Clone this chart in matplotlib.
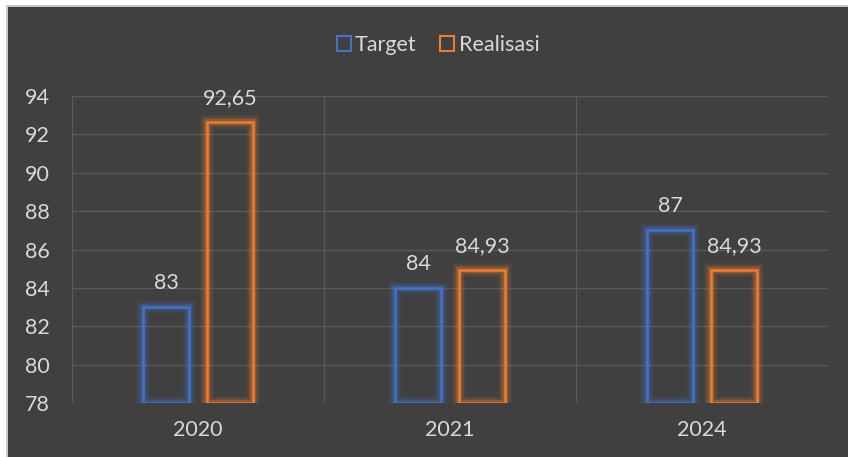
import numpy as np
import matplotlib.pyplot as plt
import matplotlib.patheffects as pe
from matplotlib.patches import Rectangle, Patch

years = ['2020', '2021', '2024']
target = [83, 84, 87]
realisasi = [92.65, 84.93, 84.93]
series_names = ['Target', 'Realisasi']
yticks = [78, 80, 82, 84, 86, 88, 90, 92, 94]

BG = '#404040'
TXT = '#D9D9D9'
GRID = '#595959'
BLUE = '#4472C4'
ORANGE = '#ED7D31'
FS = 15.5

plt.rcParams['font.family'] = ['Lato', 'DejaVu Sans']

W, H = 848, 457
fig = plt.figure(figsize=(W / 100, H / 100), dpi=100, facecolor='white')

# light frame line and dark chart area (pixel coords -> figure fractions)
fig.patches.append(Rectangle((6 / W, 0), 1, 1 - 5 / H, transform=fig.transFigure,
                             facecolor='#C8C8C8', edgecolor='none', zorder=-2))
fig.patches.append(Rectangle((8 / W, 0), 1, 1 - 7 / H, transform=fig.transFigure,
                             facecolor=BG, edgecolor='none', zorder=-1))

# plot area: x 72..828, y 96..403
ax = fig.add_axes([72 / W, 1 - 403 / H, (828 - 72) / W, (403 - 96) / H])
ax.set_facecolor('none')

x = np.arange(len(years))
bw = 0.186
off = 0.127


def glow(color):
    return [pe.Stroke(linewidth=10, foreground=color, alpha=0.08),
            pe.Stroke(linewidth=7, foreground=color, alpha=0.15),
            pe.Stroke(linewidth=4.5, foreground=color, alpha=0.3),
            pe.Normal()]


bars_t = ax.bar(x - off, np.array(target) - 78, bw, bottom=78, facecolor='none',
                edgecolor=BLUE, linewidth=1.8, zorder=3)
bars_r = ax.bar(x + off, np.array(realisasi) - 78, bw, bottom=78, facecolor='none',
                edgecolor=ORANGE, linewidth=1.8, zorder=3)
for b in list(bars_t) + list(bars_r):
    b.set_path_effects(glow(b.get_edgecolor()))

for bars, vals in [(bars_t, target), (bars_r, realisasi)]:
    for b, v in zip(bars, vals):
        lbl = ('%g' % v).replace('.', ',')
        ax.annotate(lbl, (b.get_x() + b.get_width() / 2, v), xytext=(0, 10),
                    textcoords='offset points', ha='center', va='bottom',
                    color=TXT, fontsize=FS, zorder=4)

ax.set_xlim(-0.5, len(years) - 0.5)
ax.set_ylim(78, 94)
ax.set_yticks(yticks)
ax.set_xticks(x)
ax.set_xticklabels(years)
ax.set_xticks(np.arange(len(years) + 1) - 0.5, minor=True)
ax.grid(axis='y', color=GRID, linewidth=1, zorder=0)
ax.grid(axis='x', which='minor', color=GRID, linewidth=1, zorder=0)
ax.tick_params(axis='both', which='both', length=0, colors=TXT, labelsize=FS)
ax.tick_params(axis='x', pad=12)
ax.tick_params(axis='y', pad=16)
for s in ax.spines.values():
    s.set_visible(False)

handles = [Patch(facecolor='none', edgecolor=BLUE, linewidth=1.5),
           Patch(facecolor='none', edgecolor=ORANGE, linewidth=1.5)]
fig.legend(handles, series_names, loc='center', bbox_to_anchor=(438 / W, 1 - 45 / H),
           ncol=2, frameon=False, fontsize=FS, labelcolor=TXT, handlelength=0.65,
           handleheight=0.65, handletextpad=0.2, columnspacing=1.1)

fig.savefig('out.png', dpi=100, facecolor=fig.get_facecolor())
